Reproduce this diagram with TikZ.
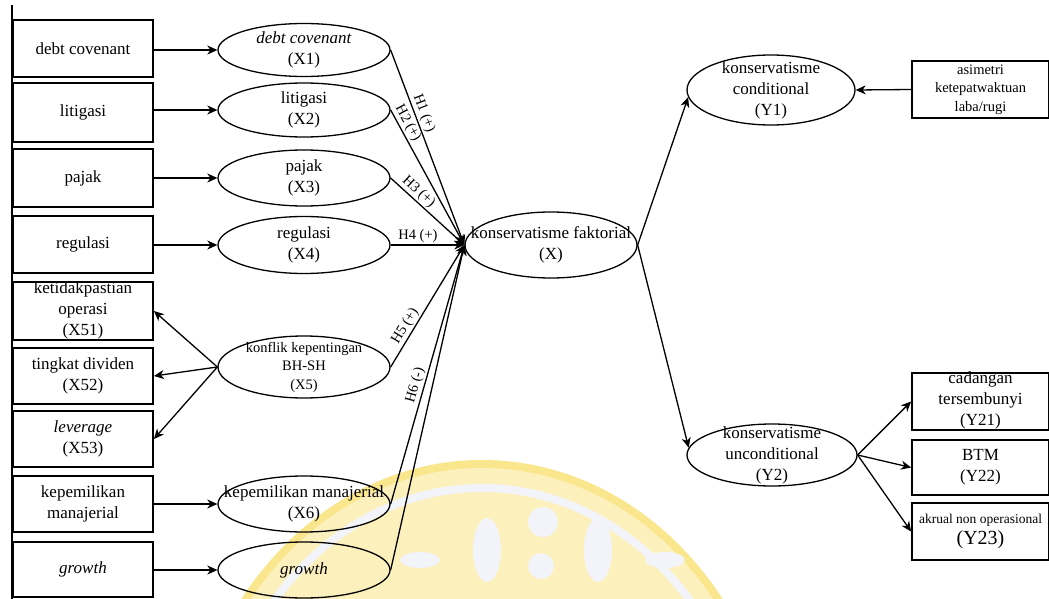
\documentclass[tikz,border=0pt]{standalone}
\usepackage{fontspec}
\setmainfont{Liberation Serif}
\usetikzlibrary{shapes.geometric,arrows.meta}
\definecolor{wmyellow}{RGB}{252,240,188}
\definecolor{wmedge}{RGB}{250,230,140}
\definecolor{wmpale}{RGB}{243,244,249}
\begin{document}
\begin{tikzpicture}[x=1pt,y=-1pt,
  box/.style={draw, rectangle, line width=1.8pt, minimum width=140pt, minimum height=57pt, inner sep=0pt},
  lat/.style={draw, ellipse, line width=1.3pt, minimum width=172pt, minimum height=56pt, inner sep=0pt},
  txt/.style={align=center, inner sep=0pt, font=\fontsize{17}{21}\selectfont},
  stxt/.style={align=center, inner sep=0pt, font=\fontsize{14.5}{18.5}\selectfont},
  arr/.style={line width=1.3pt, -{Stealth[length=10pt,width=9pt,inset=3pt]}},
  hyp/.style={font=\fontsize{14.5}{16}\selectfont, sloped, above, inner sep=1.5pt}]
\useasboundingbox (0,0) rectangle (1049,599);

% faint logo watermark behind the model
\fill[wmedge] (482,805) ellipse [x radius=300, y radius=345];
\fill[wmyellow] (482,805) ellipse [x radius=292, y radius=337];
\draw[wmpale, line width=8pt] (482,805) ellipse [x radius=272, y radius=317];
\fill[wmpale] (543,522) circle [radius=15];
\fill[wmpale] (541,566) circle [radius=13];
\fill[wmpale] (487,550) ellipse [x radius=14, y radius=32];
\fill[wmpale] (598,550) ellipse [x radius=14, y radius=32];
\fill[wmpale] (420,560) ellipse [x radius=20, y radius=8];
\fill[wmpale] (665,560) ellipse [x radius=20, y radius=8];

% frame line on the left
\draw[line width=1.4pt] (12,5) -- (12,599);

% indicator boxes (left)
\node[box, minimum height=57pt] (b1) at (83,48.5) {};
\node[txt] (t1) at (b1) {debt covenant};
\node[box, minimum height=59pt] (b2) at (83,112.5) {};
\node[txt] (t2) at (b2) {litigasi};
\node[box, minimum height=58pt] (b3) at (83,178) {};
\node[txt] (t3) at (b3) {pajak};
\node[box, minimum height=57pt] (b4) at (83,244.5) {};
\node[txt] (t4) at (b4) {regulasi};
\node[box, minimum height=58pt] (b51) at (83,311) {};
\node[txt] (t51) at (83,310) {ketidakpastian\\operasi\\(X51)};
\node[box, minimum height=56pt] (b52) at (83,376) {};
\node[txt] (t52) at (b52) {tingkat dividen\\(X52)};
\node[box, minimum height=56pt] (b53) at (83,439) {};
\node[txt] (t53) at (b53) {\textit{leverage}\\(X53)};
\node[box, minimum height=56pt] (b6) at (83,504) {};
\node[txt] (t6) at (b6) {kepemilikan\\manajerial};
\node[box, minimum height=55pt] (b7) at (83,569.5) {};
\node[txt] (t7) at (b7) {\textit{growth}};

% exogenous latent variables
\node[lat, minimum height=53pt] (e1) at (304,50) {};
\node[txt] (u1) at (e1) {\textit{debt covenant}\\(X1)};
\node[lat, minimum height=54pt] (e2) at (304,110) {};
\node[txt] (u2) at (e2) {litigasi\\(X2)};
\node[lat, minimum height=56pt] (e3) at (304,178) {};
\node[txt] (u3) at (e3) {pajak\\(X3)};
\node[lat, minimum height=57pt] (e4) at (304,245) {};
\node[txt] (u4) at (e4) {regulasi\\(X4)};
\node[lat, minimum height=62pt] (e5) at (304,367) {};
\node[stxt] (u5) at (e5) {konflik kepentingan\\BH-SH\\(X5)};
\node[lat, minimum height=56pt] (e6) at (304,504) {};
\node[txt] (u6) at (e6) {kepemilikan manajerial\\(X6)};
\node[lat, minimum height=56pt] (e7) at (304,570) {};
\node[txt] (u7) at (e7) {\textit{growth}};

% central construct and its dimensions
\node[lat, minimum width=172pt, minimum height=66pt] (X) at (551,245) {};
\node[txt] (uX) at (X) {konservatisme faktorial\\(X)};
\node[lat, minimum width=168pt, minimum height=70pt] (Y1) at (771,90) {};
\node[txt] (uY1) at (Y1) {konservatisme\\conditional\\(Y1)};
\node[lat, minimum width=170pt, minimum height=62pt] (Y2) at (772,455) {};
\node[txt] (uY2) at (Y2) {konservatisme\\unconditional\\(Y2)};

% indicator boxes (right)
\node[box, minimum width=137pt, minimum height=57pt] (a1) at (980.5,89.5) {};
\node[stxt] (s1) at (a1) {asimetri\\ketepatwaktuan\\laba/rugi};
\node[box, minimum width=137pt, minimum height=57pt] (c21) at (980.5,401.5) {};
\node[txt] (s21) at (980.5,400) {cadangan\\tersembunyi\\(Y21)};
\node[box, minimum width=137pt, minimum height=55pt] (c22) at (980.5,467.5) {};
\node[txt] (s22) at (c22) {BTM\\(Y22)};
\node[box, minimum width=137pt, minimum height=57pt] (c23) at (980.5,531.5) {};
\node[align=center, inner sep=0pt] (s23) at (c23) {{\fontsize{13.5}{16}\selectfont akrual non operasional}\\[3pt]{\fontsize{20}{22}\selectfont (Y23)}};

% measurement arrows
\foreach \i in {1,2,3,4,6,7} \draw[arr] (b\i.east |- e\i.west) -- (e\i.west);
\draw[arr] (e5.west) -- (b51.east);
\draw[arr] (e5.west) -- (b52.east);
\draw[arr] (e5.west) -- (b53.east);
\draw[arr] (a1.west) -- (Y1.east);
\draw[arr] (Y2.east) -- (c21.west);
\draw[arr] (Y2.east) -- (c22.west);
\draw[arr] (Y2.east) -- (c23.west);

% structural paths
\draw[arr] (e1.east) -- node[hyp, pos=0.34] (h1) {H1 (+)} (X.west);
\draw[arr] (e2.east) -- node[hyp, pos=0.13] (h2) {H2 (+)} (X.west);
\draw[arr] (e3.east) -- node[hyp, pos=0.3] (h3) {H3 (+)} (X.west);
\draw[arr] (e4.east) -- node[hyp, pos=0.37] (h4) {H4 (+)} (X.west);
\draw[arr] (e5.east) -- node[hyp, pos=0.3] (h5) {H5 (+)} (X.west);
\draw[arr] (e6.east) -- node[hyp, pos=0.45] (h6) {H6 (-)} (X.west);
\draw[arr] (e7.east) -- (X.west);
\draw[arr] (X.east) -- (Y1.185);
\draw[arr] (X.east) -- (Y2.175);
\end{tikzpicture}
\end{document}
